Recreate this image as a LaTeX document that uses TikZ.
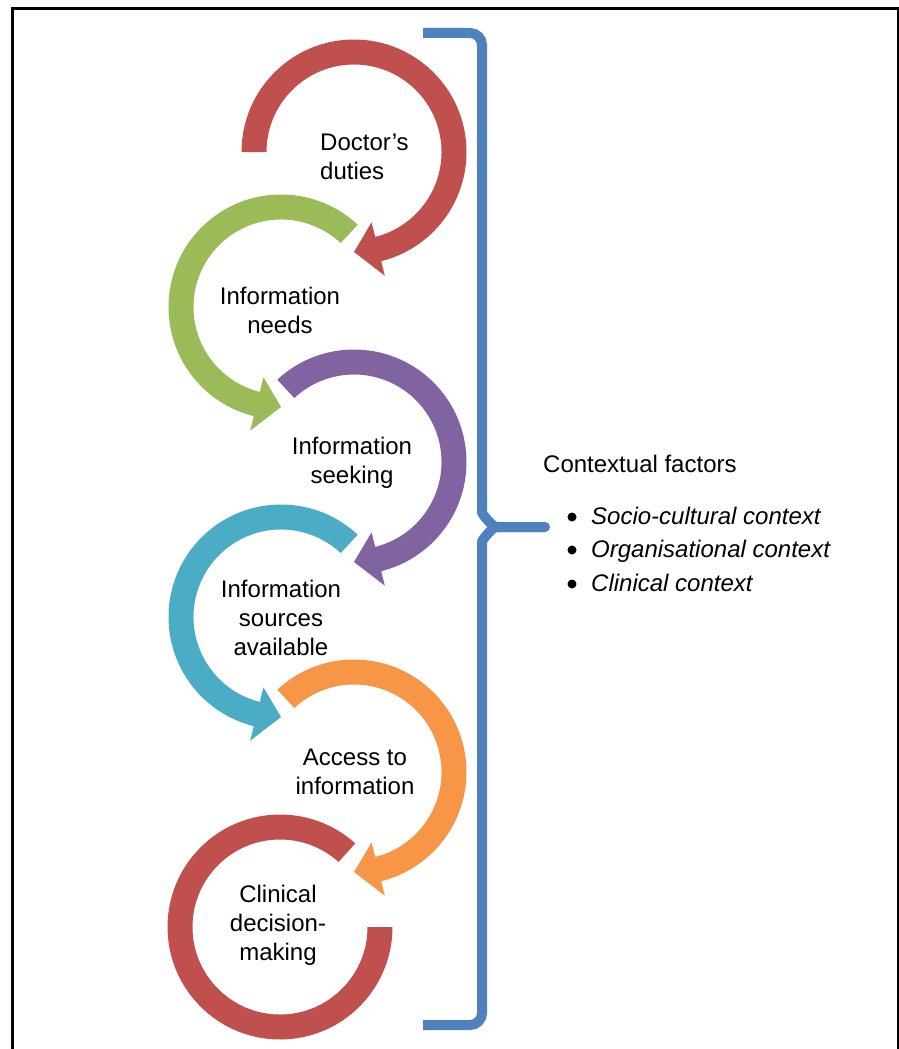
\documentclass[tikz,border=0pt]{standalone}
\usepackage{fontspec}
\setmainfont{Liberation Sans}
\usetikzlibrary{calc}

\definecolor{ringred}{HTML}{C0504D}
\definecolor{ringgreen}{HTML}{9BBB59}
\definecolor{ringpurple}{HTML}{8064A2}
\definecolor{ringcyan}{HTML}{4BACC6}
\definecolor{ringorange}{HTML}{F79646}
\definecolor{braceblue}{HTML}{4F81BD}

% #1 centre, #2 start angle, #3 head base angle, #4 tip angle, #5 colour
\newcommand{\ringarrow}[5]{%
  \fill[#5] ($(#1)+(#2:112.5)$) arc[start angle=#2, end angle=#3, radius=112.5]
    -- ($(#1)+(#3:127.5)$) -- ($(#1)+(#4:100)$) -- ($(#1)+(#3:72.5)$)
    -- ($(#1)+(#3:87.5)$) arc[start angle=#3, end angle=#2, radius=87.5] -- cycle;}

\begin{document}
\begin{tikzpicture}[
                    x=1pt, y=1pt,
                    ringtext/.style={font=\fontsize{24}{29}\selectfont, align=center, inner sep=0pt},
                    factor/.style={font=\fontsize{24}{29}\selectfont, anchor=base west, inner sep=0pt},
                    bullet/.style={circle, fill=black, inner sep=0pt, minimum size=9},
                    ctxbrace/.style={draw=braceblue, line width=10}
                    ]
    \useasboundingbox (0,0) rectangle (899,-1049);

    % frame
    \draw[line width=3] (12,-1049) -- (12,-9) -- (899,-9);
    \draw[line width=1.5] (898,-9) -- (898,-1049);

    % ring centres
    \coordinate (c1) at (354,-152);
    \coordinate (c2) at (281,-307);
    \coordinate (c3) at (354,-462);
    \coordinate (c4) at (281,-617);
    \coordinate (c5) at (354,-772);
    \coordinate (c6) at (280,-927);

    \ringarrow{c1}{180}{-76}{-90}{ringred}
    \ringarrow{c2}{47}{256}{270}{ringgreen}
    \ringarrow{c3}{133}{-76}{-90}{ringpurple}
    \ringarrow{c4}{47}{256}{270}{ringcyan}
    \ringarrow{c5}{133}{-76}{-90}{ringorange}
    \fill[ringred] ($(c6)+(48:112.5)$) arc[start angle=48, end angle=360, radius=112.5]
        -- ($(c6)+(0:87.5)$) arc[start angle=360, end angle=48, radius=87.5] -- cycle;

    \node [ringtext, align=left, anchor=west] (duties) at (320,-157) {Doctor’s\\duties};
    \node [ringtext] (needs) at (280,-310) {Information\\needs};
    \node [ringtext] (seeking) at (352,-463) {Information\\seeking};
    \node [ringtext] (sources) at (281,-618) {Information\\sources\\available};
    \node [ringtext] (access) at (355,-772) {Access to\\information};
    \node [ringtext] (decision) at (278,-925) {Clinical\\decision-\\making};

    % brace
    \coordinate (btop) at (423,-33);
    \coordinate (bmid) at (545,-527);
    \coordinate (bbot) at (423,-1025);
    \draw[ctxbrace, rounded corners=12] (btop) -- (482,-33) -- (482,-500) to[out=-90, in=180] (508,-527) -- (bmid);
    \draw[ctxbrace, rounded corners=12] (bmid) -- (508,-527) to[out=180, in=90] (482,-554) -- (482,-1025) -- (bbot);
    \draw[ctxbrace, line cap=round] (515,-527) -- (bmid);

    \node [factor] (ctx) at (543,-472) {Contextual factors};
    \node [factor] (socio) at (591,-524) {\itshape Socio-cultural context};
    \node [factor] (organ) at (591,-557) {\itshape Organisational context};
    \node [factor] (clinic) at (591,-591) {\itshape Clinical context};
    \node [bullet] (dot1) at (572,-517) {};
    \node [bullet] (dot2) at (572,-550) {};
    \node [bullet] (dot3) at (572,-584) {};
\end{tikzpicture}
\end{document}
